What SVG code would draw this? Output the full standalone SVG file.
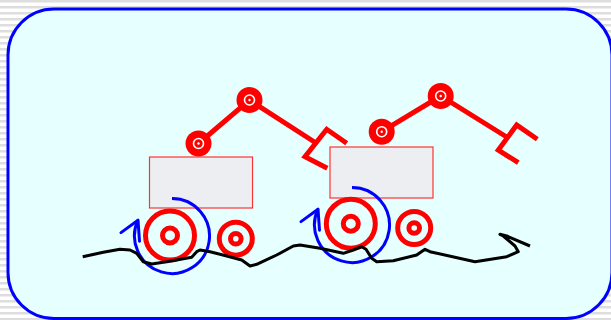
<svg xmlns="http://www.w3.org/2000/svg" width="611" height="320" viewBox="0 0 611 320">
  <defs>
    <pattern id="stripes" width="8" height="6" patternUnits="userSpaceOnUse">
      <rect width="8" height="6" fill="#ffffff"/>
      <rect y="0" width="8" height="2.5" fill="#dedede"/>
    </pattern>
    <marker id="spin-head" markerUnits="userSpaceOnUse" markerWidth="40" markerHeight="40" refX="0" refY="0" orient="auto" overflow="visible">
      <path d="M-18.4,-10.2 L0,0 L-18.4,10.2" fill="none" stroke="#0000ff" stroke-width="3" stroke-linecap="round" stroke-linejoin="round"/>
    </marker>
    <style>
      .frame { fill: #e6ffff; stroke: #0000ff; stroke-width: 3; }
      .body { fill: #eceef1; stroke: #ff3333; stroke-width: 1.2; }
      .ring { fill: none; stroke: #ff0000; stroke-width: 5; }
      .arm { fill: none; stroke: #ff0000; stroke-width: 5; stroke-linecap: butt; stroke-linejoin: miter; }
      .joint { fill: #ff0000; }
      .joint-gap { fill: none; stroke: #ffffff; stroke-width: 1.6; }
      .joint-dot { fill: #ffffff; }
      .spin { fill: none; stroke: #0000ff; stroke-width: 3; marker-end: url(#spin-head); }
      .ground { fill: none; stroke: #000000; stroke-width: 3; stroke-linejoin: round; stroke-linecap: butt; }
    </style>
  </defs>

  <!-- striped page background and rounded panel -->
  <rect width="611" height="320" fill="url(#stripes)"/>
  <rect class="frame" x="8" y="9" width="604" height="309.5" rx="46" ry="46"/>

  <!-- rover on the left -->
  <g id="rover-1">
    <rect class="body" x="149.5" y="157" width="103" height="51"/>
    <circle class="ring" cx="170" cy="235.5" r="24.5"/>
    <circle class="ring" cx="170" cy="235.5" r="7.5"/>
    <circle class="ring" cx="235.8" cy="238.7" r="16.5"/>
    <circle class="ring" cx="235.8" cy="238.7" r="5.3" stroke-width="4"/>
    <polyline class="arm" points="198.5,143.5 249.5,100 316,143"/>
    <polyline class="arm" points="346.7,143.3 326.7,129.3 305,156.7 327.3,168.3"/>
    <circle class="joint" cx="198.5" cy="143.5" r="13"/>
    <circle class="joint-gap" cx="198.5" cy="143.5" r="5"/>
    <circle class="joint-dot" cx="198.5" cy="143.5" r="1.2"/>
    <circle class="joint" cx="249.5" cy="100" r="13"/>
    <circle class="joint-gap" cx="249.5" cy="100" r="5"/>
    <circle class="joint-dot" cx="249.5" cy="100" r="1.2"/>
    <path class="spin" d="M172,198.5 A37.5,37.5 0 1 1 138,220.2"/>
  </g>

  <!-- rover on the right -->
  <g id="rover-2">
    <rect class="body" x="330" y="147" width="103" height="51"/>
    <circle class="ring" cx="350.8" cy="223.7" r="24.5"/>
    <circle class="ring" cx="350.8" cy="223.7" r="7.5"/>
    <circle class="ring" cx="414.2" cy="228" r="16.5"/>
    <circle class="ring" cx="414.2" cy="228" r="5.3" stroke-width="4"/>
    <polyline class="arm" points="381.7,131.7 440.7,96 507.5,137.5"/>
    <polyline class="arm" points="537.3,139.3 516.7,125 498.3,150 518.3,162.7"/>
    <circle class="joint" cx="381.7" cy="131.7" r="13"/>
    <circle class="joint-gap" cx="381.7" cy="131.7" r="5"/>
    <circle class="joint-dot" cx="381.7" cy="131.7" r="1.2"/>
    <circle class="joint" cx="440.7" cy="96" r="13"/>
    <circle class="joint-gap" cx="440.7" cy="96" r="5"/>
    <circle class="joint-dot" cx="440.7" cy="96" r="1.2"/>
    <path class="spin" d="M352,187.5 A37.5,37.5 0 1 1 318,209.2"/>
  </g>

  <!-- rough terrain line -->
  <g id="terrain">
    <path class="ground" d="M82.7,256.7 L103.3,252.3 L120,249.3 L130,250 L136.7,253.3 L143.3,261.7 L151.7,264 L166.7,261.7 L191.7,257.3 L196.7,251.7 L200,250 L210,251.7 L226.7,256 L241.7,260 L250,266 L256.7,264.3 L276.7,255 L293.3,246 L300,245 L320,248.3 L343.3,253.3 L353.3,250 L361.7,246.7 L366,249.3 L371.7,258.3 L376.7,261.7 L393.3,260.7 L416.7,255 L425,249.3 L430,251.7 L475,261.7 L506.7,256.7 L518.3,251.7 L515,246 L503.3,236 L500,234.3 L506.7,236 L530,246"/>
  </g>
</svg>
